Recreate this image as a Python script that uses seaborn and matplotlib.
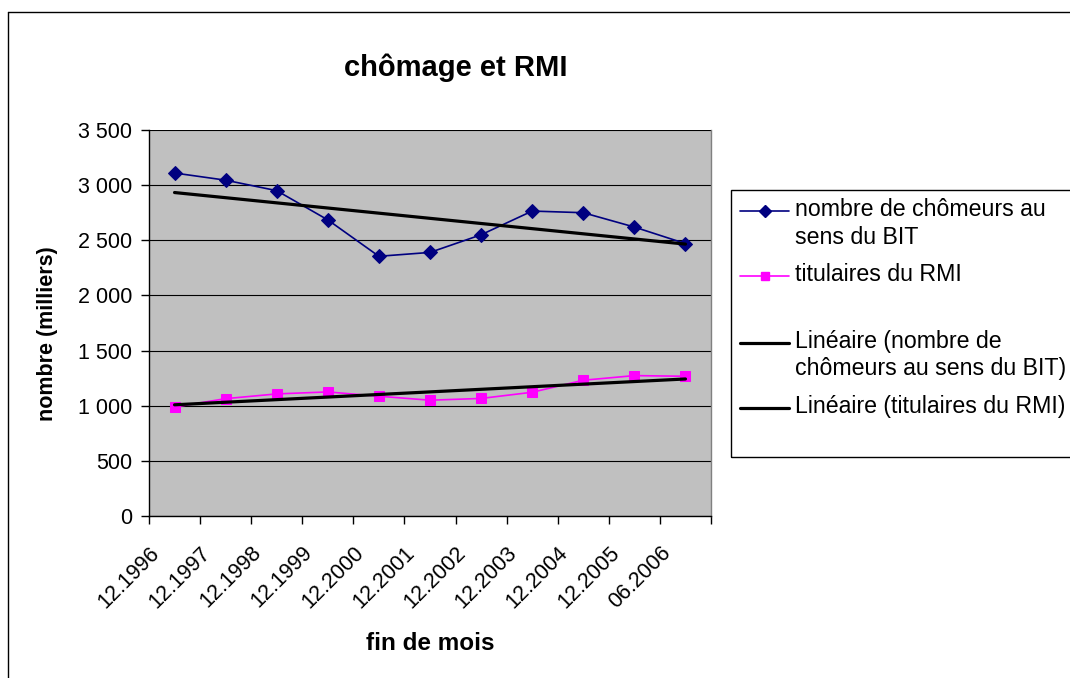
import numpy as np
import pandas as pd
import matplotlib
matplotlib.use('Agg')
import matplotlib.pyplot as plt
from matplotlib.lines import Line2D
from matplotlib.patches import Rectangle
import seaborn as sns

# data (milliers)
periods = ['12.1996', '12.1997', '12.1998', '12.1999', '12.2000', '12.2001',
           '12.2002', '12.2003', '12.2004', '12.2005', '06.2006']
chomeurs = [3110, 3045, 2950, 2685, 2355, 2390, 2550, 2765, 2750, 2620, 2470]
rmi = [988, 1064, 1107, 1125, 1086, 1050, 1066, 1122, 1231, 1273, 1267]

y_ticks = [0, 500, 1000, 1500, 2000, 2500, 3000, 3500]
y_labels = ['0', '500', '1 000', '1 500', '2 000', '2 500', '3 000', '3 500']

legend_labels = ['nombre de chômeurs au\nsens du BIT',
                 'titulaires du RMI',
                 'Linéaire (nombre de\nchômeurs au sens du BIT)',
                 'Linéaire (titulaires du RMI)']

W, H = 1070, 678
NAVY = '#000080'
MAGENTA = '#FF00FF'

sns.set_theme(style='white')
plt.rcParams['font.family'] = ['Liberation Sans', 'DejaVu Sans']
for key in ['text.color', 'axes.labelcolor', 'xtick.color', 'ytick.color']:
    plt.rcParams[key] = 'black'

df = pd.DataFrame({'idx': np.arange(len(periods)), 'chomeurs': chomeurs, 'rmi': rmi})

fig = plt.figure(figsize=(W / 100, H / 100), dpi=100)
fig.patch.set_facecolor('white')
ax = fig.add_axes([149 / W, 1 - 516 / H, (711 - 149) / W, (516 - 130) / H])
ax.set_facecolor('#C0C0C0')

# series
sns.lineplot(data=df, x='idx', y='chomeurs', ax=ax, color=NAVY, marker='D',
             markersize=7, markeredgecolor=NAVY, linewidth=1.2, zorder=3)
sns.lineplot(data=df, x='idx', y='rmi', ax=ax, color=MAGENTA, marker='s',
             markersize=6.5, markeredgecolor=MAGENTA, linewidth=1.2, zorder=3)

# linear trend lines
sns.regplot(data=df, x='idx', y='chomeurs', ax=ax, scatter=False, ci=None,
            color='black', line_kws={'linewidth': 2.3, 'zorder': 4})
sns.regplot(data=df, x='idx', y='rmi', ax=ax, scatter=False, ci=None,
            color='black', line_kws={'linewidth': 2.3, 'zorder': 4})

ax.set_xlim(-0.5, len(periods) - 0.5)
ax.set_ylim(0, 3500)

# y axis
ax.set_yticks(y_ticks)
ax.set_yticklabels(y_labels, fontsize=15.5)
ax.grid(axis='y', color='black', linewidth=0.8)
ax.set_axisbelow(True)
ax.tick_params(axis='y', which='major', length=6, width=1, direction='out',
               color='black', left=True, pad=6)

# x axis: rotated labels (anchored a little left of the category centre, as in Excel),
# tick marks between categories
ax.set_xticks(df['idx'] - 0.21)
ax.set_xticklabels(periods, rotation=45, ha='right', fontsize=15.5)
ax.tick_params(axis='x', which='major', length=0, pad=19)
ax.set_xticks(np.arange(-0.5, len(periods), 1), minor=True)
ax.tick_params(axis='x', which='minor', length=6, width=1, direction='out',
               color='black', bottom=True)

for side in ['left', 'bottom']:
    ax.spines[side].set_color('black')
    ax.spines[side].set_linewidth(1)
ax.spines['top'].set_visible(False)
ax.spines['right'].set_color('#808080')
ax.spines['right'].set_linewidth(1)

ax.set_xlabel('fin de mois', fontsize=17.5, fontweight='bold')
ax.xaxis.label.set_va('center')
ax.xaxis.set_label_coords(0.5, (516 - 643) / 386)
ax.set_ylabel('nombre (milliers)', fontsize=15.5, fontweight='bold')
ax.yaxis.label.set_va('center')
ax.yaxis.set_label_coords((48 - 149) / 562, (516 - 334) / 386)

fig.text(456 / W, 1 - 68 / H, 'chômage et RMI', ha='center', va='center',
         fontsize=21, fontweight='bold')

# outer chart border (cut off on right and bottom)
fig.add_artist(Line2D([8 / W, 8 / W], [1 - 12 / H, -0.05], color='black', lw=1))
fig.add_artist(Line2D([8 / W, 1.05], [1 - 12 / H, 1 - 12 / H], color='black', lw=1))

# legend box drawn by hand to follow the Excel layout
fig.add_artist(Rectangle((731 / W, 1 - 457 / H), 0.5, (457 - 190) / H,
                         transform=fig.transFigure, fill=False,
                         edgecolor='black', lw=1))
handle_colors = [NAVY, MAGENTA, 'black', 'black']
handle_widths = [1.2, 1.2, 2.3, 2.3]
handle_markers = ['D', 's', None, None]
handle_y = [211, 276, 343, 408]
for label, col, lw, mk, yy in zip(legend_labels, handle_colors, handle_widths,
                                  handle_markers, handle_y):
    fig.add_artist(Line2D([740 / W, 789 / W], [1 - yy / H, 1 - yy / H], color=col, lw=lw))
    if mk is not None:
        fig.add_artist(Line2D([764.5 / W], [1 - yy / H], linestyle='none', marker=mk,
                              markersize=6, color=col, markeredgecolor=col))
    fig.text(795 / W, 1 - (yy - 13) / H, label, ha='left', va='top',
             fontsize=16.7, linespacing=1.25)

fig.savefig('out.png', dpi=100)
